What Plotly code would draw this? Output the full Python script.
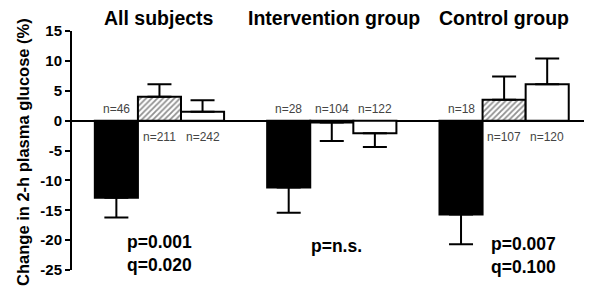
import plotly.graph_objects as go

groups = ["All subjects", "Intervention group", "Control group"]
p_labels = ["p=0.001<br>q=0.020", "p=n.s.", "p=0.007<br>q=0.100"]

black_vals = [-12.9, -11.2, -15.7]
black_err = [3.3, 4.2, 5.0]
black_n = [46, 28, 18]

hatch_vals = [4.0, -0.3, 3.5]
hatch_err = [2.1, 3.1, 3.9]
hatch_n = [211, 104, 107]

white_vals = [1.5, -2.1, 6.1]
white_err = [1.9, 2.3, 4.3]
white_n = [242, 122, 120]

y_ticks = [15, 10, 5, 0, -5, -10, -15, -20, -25]

FONT = "Liberation Sans, Arial, sans-serif"

fig = go.Figure()

series = [
    (black_vals, black_err, black_n, 0, dict(color="black")),
    (hatch_vals, hatch_err, hatch_n, 1,
     dict(color="white", pattern=dict(shape="/", fgcolor="#222222", bgcolor="white", size=4, solidity=0.45))),
    (white_vals, white_err, white_n, 2, dict(color="white")),
]

annotations = []
for vals, errs, ns, off, marker in series:
    xs = [g * 4 + off for g in range(len(groups))]
    up = [e if v > 0 else 0 for v, e in zip(vals, errs)]
    dn = [e if v <= 0 else 0 for v, e in zip(vals, errs)]
    m = dict(marker)
    m["line"] = dict(color="black", width=2)
    fig.add_trace(go.Bar(
        x=xs, y=vals, width=1, marker=m,
        error_y=dict(type="data", symmetric=False, array=up, arrayminus=dn,
                     color="black", thickness=2, width=12),
        showlegend=False, hoverinfo="skip",
    ))
    for x, v, n in zip(xs, vals, ns):
        if v < 0:
            annotations.append(dict(x=x, y=0, xref="x", yref="y", text=f"n={n}",
                                    showarrow=False, yanchor="bottom", yshift=3,
                                    font=dict(family=FONT, size=12, color="#444444")))
        else:
            annotations.append(dict(x=x, y=0, xref="x", yref="y", text=f"n={n}",
                                    showarrow=False, yanchor="top", yshift=-7,
                                    font=dict(family=FONT, size=12, color="#444444")))

title_x = [1.0, 5.05, 9.0]
for g, name in enumerate(groups):
    annotations.append(dict(x=title_x[g], y=1, xref="x", yref="paper", text=f"<b>{name}</b>",
                            showarrow=False, yanchor="middle", yshift=13,
                            font=dict(family=FONT, size=19.5, color="black")))

p_x = [1.0, 5.1, 9.45]
p_y = [-22.3, -21.0, -22.5]
for g, lab in enumerate(p_labels):
    annotations.append(dict(x=p_x[g], y=p_y[g], xref="x", yref="y", text=f"<b>{lab}</b>",
                            showarrow=False, yanchor="middle", align="left",
                            font=dict(family=FONT, size=17.5, color="black")))

annotations.append(dict(x=0, y=0.494, xref="paper", yref="paper", xshift=-49,
                        text="<b>Change in 2-h plasma glucose (%)</b>", textangle=-90,
                        showarrow=False, xanchor="center", yanchor="middle",
                        font=dict(family=FONT, size=16.5, color="black")))

fig.update_layout(
    width=584, height=288,
    margin=dict(l=64, r=0, t=23, b=26),
    paper_bgcolor="white", plot_bgcolor="white",
    barmode="overlay",
    annotations=annotations,
    xaxis=dict(range=[-1.03, 11.04], visible=False, fixedrange=True),
    yaxis=dict(range=[-25, 15], tickvals=y_ticks, ticktext=[str(t) for t in y_ticks],
               showline=True, linecolor="black", linewidth=2,
               ticks="outside", ticklen=5, tickwidth=2, tickcolor="black",
               showgrid=False, zeroline=True, zerolinecolor="black", zerolinewidth=2,
               tickfont=dict(family=FONT, size=15, color="black", weight="bold"),
               fixedrange=True),
)

fig.write_html("out.html")
